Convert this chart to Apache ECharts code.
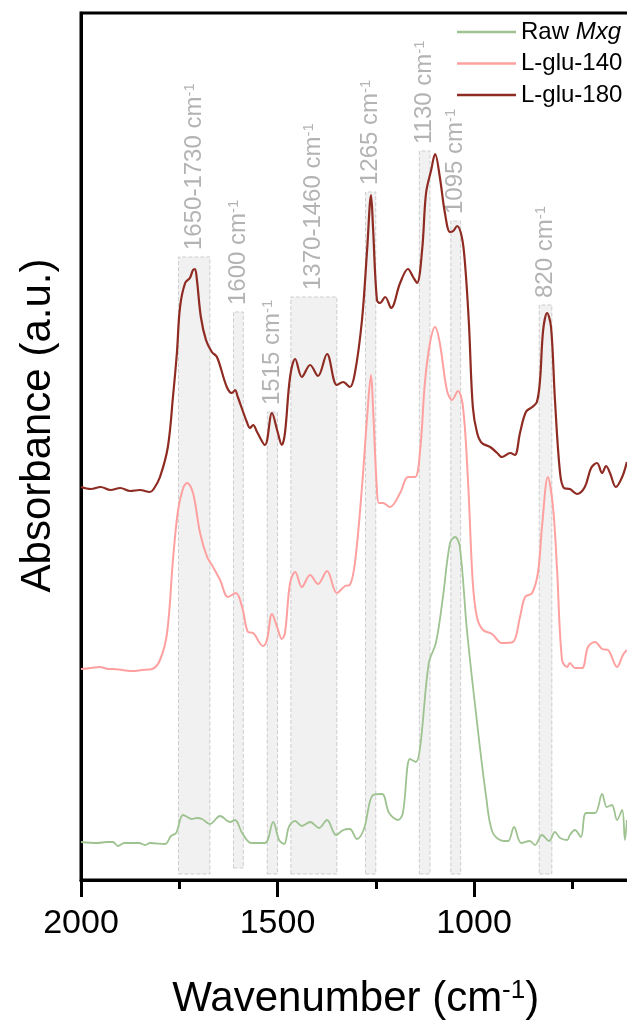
<!DOCTYPE html>
<html>
<head>
<meta charset="utf-8">
<script src="https://cdn.jsdelivr.net/npm/echarts@6/dist/echarts.min.js"></script>
<style>
html,body{margin:0;padding:0;background:#fff;}
#chart{width:627px;height:1022px;}
</style>
</head>
<body>
<div id="chart"></div>
<script>
// ---- Data (wavenumber cm^-1, absorbance a.u.) ----
const xTicks = [2000, 1500, 1000];

const gluta180 = [
[2000,3.93],[1975,3.91],[1950,3.93],[1925,3.90],[1900,3.92],[1875,3.89],[1850,3.90],[1825,3.88],[1815,3.91],
[1799,4.03],[1779,4.33],[1766,4.83],[1756,5.27],[1748,5.73],[1735,5.97],[1723,6.02],[1715,6.10],[1710,6.11],
[1705,6.00],[1695,5.63],[1682,5.40],[1667,5.28],[1654,5.23],[1629,4.93],[1616,4.87],[1608,4.90],[1601,4.83],
[1578,4.58],[1570,4.52],[1562,4.55],[1552,4.48],[1532,4.35],[1514,4.67],[1501,4.50],[1489,4.35],[1481,4.47],
[1468,5.03],[1455,5.21],[1438,5.03],[1417,5.15],[1397,5.04],[1374,5.26],[1349,4.95],[1333,4.98],[1316,4.93],
[1303,5.07],[1285,5.60],[1272,6.30],[1262,6.85],[1257,6.53],[1247,5.80],[1239,5.77],[1226,5.83],[1211,5.72],
[1188,5.97],[1168,6.11],[1155,6.03],[1145,5.97],[1132,6.30],[1122,6.87],[1109,7.10],[1099,7.26],[1087,7.03],
[1074,6.67],[1061,6.48],[1053,6.49],[1043,6.54],[1031,6.43],[1023,6.17],[1013,5.57],[1003,4.73],[992,4.47],
[980,4.37],[959,4.33],[941,4.27],[929,4.23],[908,4.27],[896,4.25],[883,4.47],[868,4.68],[852,4.73],[840,4.78],
[832,5.00],[824,5.50],[814,5.67],[804,5.53],[794,4.80],[781,4.07],[771,3.92],[756,3.91],[738,3.86],[718,3.93],
[702,4.12],[687,4.17],[674,4.07],[664,4.14],[654,4.07],[639,3.93],[623,4.03],[611,4.18]
];

const gluta140 = [
[2000,2.11],[1975,2.12],[1952,2.13],[1930,2.11],[1919,2.11],[1895,2.10],[1868,2.09],[1845,2.10],[1819,2.11],
[1799,2.20],[1781,2.47],[1766,3.20],[1753,3.70],[1740,3.92],[1730,3.97],[1715,3.87],[1697,3.47],[1679,3.23],
[1664,3.13],[1646,3.00],[1626,2.83],[1606,2.87],[1590,2.73],[1575,2.48],[1562,2.47],[1537,2.34],[1527,2.40],
[1514,2.66],[1501,2.53],[1489,2.41],[1481,2.47],[1468,2.97],[1455,3.08],[1438,2.93],[1417,3.05],[1397,2.96],
[1374,3.09],[1349,2.87],[1328,2.94],[1316,2.95],[1303,3.17],[1285,3.93],[1272,4.63],[1262,5.05],[1257,4.73],
[1247,3.90],[1242,3.77],[1232,3.77],[1214,3.73],[1188,3.87],[1168,4.03],[1150,4.03],[1137,4.30],[1125,4.97],
[1112,5.37],[1099,5.53],[1087,5.37],[1069,4.90],[1056,4.80],[1041,4.89],[1028,4.73],[1015,3.97],[1003,2.97],
[992,2.62],[977,2.50],[954,2.46],[929,2.37],[901,2.38],[883,2.63],[870,2.83],[852,2.87],[837,3.08],[827,3.53],
[812,4.03],[799,3.73],[789,3.13],[776,2.20],[763,2.13],[756,2.17],[743,2.12],[725,2.12],[710,2.33],[692,2.38],
[674,2.31],[659,2.30],[636,2.13],[621,2.25],[611,2.30]
];

const rawMxg = [
[2000,0.38],[1959,0.37],[1935,0.38],[1919,0.38],[1906,0.34],[1890,0.37],[1878,0.37],[1852,0.37],[1837,0.35],
[1824,0.37],[1786,0.36],[1771,0.44],[1758,0.47],[1740,0.65],[1718,0.61],[1705,0.62],[1692,0.61],[1672,0.56],
[1646,0.64],[1621,0.58],[1608,0.60],[1590,0.47],[1567,0.37],[1532,0.37],[1511,0.58],[1496,0.40],[1483,0.36],
[1471,0.53],[1455,0.59],[1438,0.54],[1417,0.58],[1394,0.52],[1374,0.60],[1351,0.45],[1333,0.50],[1316,0.51],
[1298,0.41],[1280,0.51],[1257,0.85],[1234,0.86],[1216,0.67],[1193,0.60],[1181,0.67],[1163,1.21],[1148,1.18],
[1137,1.33],[1115,2.17],[1097,2.37],[1079,2.83],[1061,3.37],[1048,3.43],[1036,3.33],[1018,2.50],[995,1.67],
[969,0.83],[952,0.47],[924,0.39],[913,0.39],[898,0.53],[880,0.37],[858,0.39],[845,0.35],[827,0.45],[809,0.39],
[794,0.48],[781,0.42],[763,0.40],[756,0.45],[743,0.50],[728,0.43],[715,0.67],[692,0.67],[674,0.86],[662,0.73],
[649,0.75],[636,0.60],[623,0.70],[616,0.40],[611,0.60]
];

// Highlighted bands
const bandNames  = ['1650-1730', '1600', '1515', '1370-1460', '1265', '1130', '1095', '820'];
const bandFrom   = [1752, 1612, 1526, 1466, 1276, 1139, 1059, 834];
const bandTo     = [1672, 1587, 1500, 1349, 1250, 1112, 1034, 802];
const bandTop    = [6.23, 5.68, 4.68, 5.83, 6.88, 7.29, 6.59, 5.75];
const bandBottom = [0.06, 0.12, 0.06, 0.06, 0.06, 0.06, 0.06, 0.06];

const seriesNames = ['Raw Mxg', 'L-glu-140', 'L-glu-180'];

// ---- Chart ----
const FONT = 'Liberation Sans, Arial, sans-serif';
const chart = echarts.init(document.getElementById('chart'), null, {renderer: 'canvas'});

const bandAreas = bandNames.map((n, i) => [
  {xAxis: bandFrom[i], yAxis: bandBottom[i]},
  {xAxis: bandTo[i], yAxis: bandTop[i]}
]);
const bandLabelPts = bandNames.map((n, i) => [(bandFrom[i] + bandTo[i]) / 2, bandTop[i]]);

const option = {
  animation: false,
  backgroundColor: '#fff',
  grid: {
    left: 81, right: -43.5, top: 13, bottom: 142,
    containLabel: false,
    outerBoundsMode: 'none',
    show: true, borderColor: '#000', borderWidth: 3, backgroundColor: 'transparent'
  },
  legend: {
    data: seriesNames,
    orient: 'vertical',
    left: 457, top: 20, padding: 0,
    icon: 'rect',
    itemWidth: 59, itemHeight: 2.5, itemGap: 7.5,
    formatter: name => name === 'Raw Mxg' ? '{n|Raw }{i|Mxg}' : '{n|' + name + '}',
    textStyle: {
      fontFamily: FONT, fontSize: 24, color: '#000', lineHeight: 24,
      rich: {
        n: {fontFamily: FONT, fontSize: 24, color: '#000'},
        i: {fontFamily: FONT, fontSize: 24, color: '#000', fontStyle: 'italic'}
      }
    }
  },
  xAxis: {
    type: 'value', inverse: true, min: 500, max: 2000, interval: 500,
    name: '{a|Wavenumber (cm}{s|-1}{a|)}',
    nameLocation: 'middle', nameGap: 98,
    nameTextStyle: {
      padding: [0, 40, 0, 0],
      rich: {
        a: {fontFamily: FONT, fontSize: 42, color: '#000'},
        s: {fontFamily: FONT, fontSize: 26, color: '#000', verticalAlign: 'top'}
      }
    },
    axisLine: {show: true, onZero: false, lineStyle: {color: '#000', width: 3}},
    axisTick: {show: true, inside: false, length: 17, lineStyle: {color: '#000', width: 3}},
    minorTick: {show: true, splitNumber: 2, length: 9, lineStyle: {color: '#000', width: 3}},
    axisLabel: {
      fontFamily: FONT, fontSize: 34, color: '#000', margin: 27,
      customValues: xTicks,
      formatter: v => String(v)
    },
    splitLine: {show: false},
    minorSplitLine: {show: false}
  },
  yAxis: {
    type: 'value', min: 0, max: 8.67,
    name: 'Absorbance (a.u.)',
    nameLocation: 'middle', nameGap: 22,
    nameTextStyle: {fontFamily: FONT, fontSize: 42, color: '#000', padding: [0, 0, 0, 42]},
    axisLine: {show: true, onZero: false, lineStyle: {color: '#000', width: 3}},
    axisTick: {show: false},
    axisLabel: {show: false},
    splitLine: {show: false}
  },
  series: [
    {
      name: 'bands',
      type: 'scatter',
      z: 1,
      silent: true,
      symbolSize: 0,
      data: bandLabelPts,
      label: {
        show: true,
        position: 'top',
        distance: 7,
        rotate: 90,
        align: 'left',
        verticalAlign: 'middle',
        formatter: p => '{t|' + bandNames[p.dataIndex] + ' cm}{s|-1}',
        rich: {
          t: {fontFamily: FONT, fontSize: 24, color: '#a0a0a0'},
          s: {fontFamily: FONT, fontSize: 15, color: '#a0a0a0', verticalAlign: 'top'}
        }
      },
      markArea: {
        silent: true,
        itemStyle: {
          color: 'rgba(238,238,238,0.85)',
          borderColor: '#cdcdcd',
          borderWidth: 1,
          borderType: 'dashed'
        },
        label: {show: false},
        data: bandAreas
      }
    },
    {
      name: 'Raw Mxg', type: 'line', z: 3, data: rawMxg,
      symbol: 'none', smooth: 0.35,
      lineStyle: {color: '#9ec391', width: 1.8},
      itemStyle: {color: '#9ec391'}
    },
    {
      name: 'L-glu-140', type: 'line', z: 3, data: gluta140,
      symbol: 'none', smooth: 0.35,
      lineStyle: {color: '#ffa0a0', width: 2},
      itemStyle: {color: '#ffa0a0'}
    },
    {
      name: 'L-glu-180', type: 'line', z: 3, data: gluta180,
      symbol: 'none', smooth: 0.35,
      lineStyle: {color: '#8e2b22', width: 2.2},
      itemStyle: {color: '#8e2b22'}
    }
  ]
};
chart.setOption(option);
</script>
</body>
</html>
